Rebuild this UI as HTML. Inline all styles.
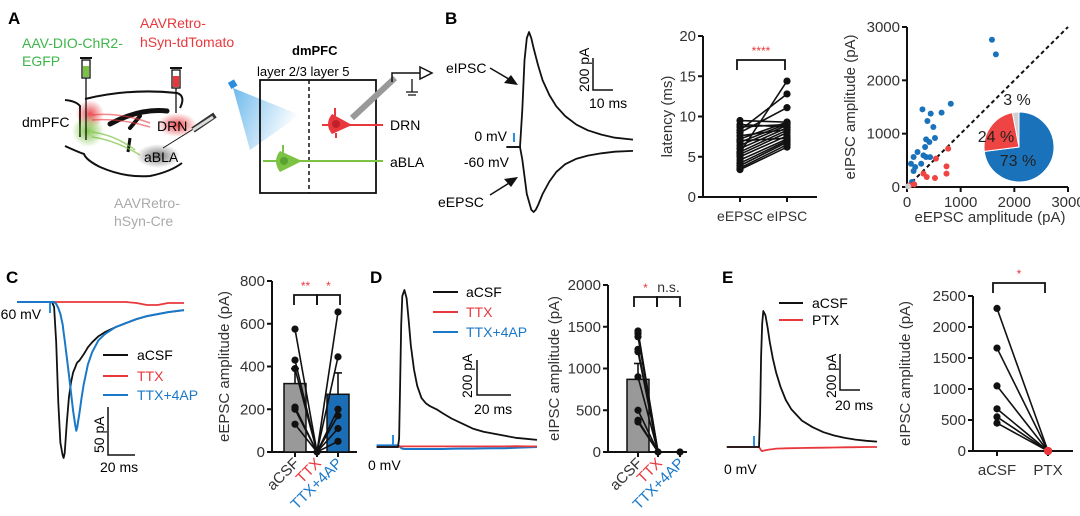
<!DOCTYPE html>
<html><head><meta charset="utf-8"><style>
html,body{margin:0;padding:0;background:#fff;}
svg{display:block;font-family:"Liberation Sans",sans-serif;}
text{font-family:"Liberation Sans",sans-serif;}
</style></head><body>
<svg id="fig" width="1080" height="516" viewBox="0 0 1080 516" xmlns="http://www.w3.org/2000/svg">
<defs>
<radialGradient id="gR"><stop offset="0" stop-color="#e8383d" stop-opacity="0.9"/><stop offset="1" stop-color="#e8383d" stop-opacity="0"/></radialGradient>
<radialGradient id="gG"><stop offset="0" stop-color="#7cc243" stop-opacity="0.95"/><stop offset="1" stop-color="#7cc243" stop-opacity="0"/></radialGradient>
<radialGradient id="gK"><stop offset="0" stop-color="#555" stop-opacity="0.8"/><stop offset="1" stop-color="#555" stop-opacity="0"/></radialGradient>
<linearGradient id="light" x1="0" y1="0" x2="1" y2="0.4"><stop offset="0" stop-color="#4aa8e8" stop-opacity="0.8"/><stop offset="1" stop-color="#4aa8e8" stop-opacity="0"/></linearGradient>
</defs>

<!-- Panel A -->
<g>
<text x="8" y="24" font-size="17" font-weight="bold">A</text>
<text x="22" y="48" font-size="14" fill="#3db54a">AAV-DIO-ChR2-</text>
<text x="22" y="66" font-size="14" fill="#3db54a">EGFP</text>
<text x="140" y="28" font-size="14" fill="#e8383d">AAVRetro-</text>
<text x="140" y="47" font-size="14" fill="#e8383d">hSyn-tdTomato</text>
<text x="114" y="208" font-size="14" fill="#aaa">AAVRetro-</text>
<text x="114" y="226" font-size="14" fill="#aaa">hSyn-Cre</text>
<g fill="none" stroke="#111" stroke-width="2">
<path d="M65,100 Q76,101 80,106 L80,137"/>
<path d="M85,99 Q130,88 177,93 Q186,96 180,108"/>
<path d="M65,146 Q78,152 84,154 Q86,160 100,167 Q125,178 150,176 Q170,172 182,163"/>
<path d="M110,124 Q140,108 167,111" stroke-width="5" stroke-linecap="round"/>
<path d="M130,128 L140,116" stroke-width="4" stroke-linecap="round"/>
<path d="M128,152 L130,138" stroke-width="3"/>
</g>
<circle cx="90" cy="114" r="14" fill="url(#gR)"/>
<circle cx="88" cy="131" r="16" fill="url(#gG)"/>
<ellipse cx="177" cy="125" rx="20" ry="12" fill="url(#gR)"/>
<ellipse cx="158" cy="156" rx="22" ry="12" fill="url(#gK)"/>
<path d="M92,115 Q120,112 150,123" stroke="#e8383d" stroke-width="1.5" fill="none" opacity="0.6"/>
<path d="M92,120 Q120,118 150,127" stroke="#e8383d" stroke-width="1.5" fill="none" opacity="0.6"/>
<path d="M92,132 Q115,135 135,150" stroke="#7cc243" stroke-width="1.5" fill="none" opacity="0.7"/>
<path d="M92,137 Q115,140 140,155" stroke="#7cc243" stroke-width="1.5" fill="none" opacity="0.7"/>
<g>
<line x1="86" y1="76" x2="86" y2="140" stroke="#111" stroke-width="1.3"/>
<rect x="82" y="60" width="8" height="18" fill="#fff" stroke="#111" stroke-width="1.3"/><rect x="83" y="66" width="6" height="11" fill="#7cc243"/>
<line x1="80" y1="58" x2="92" y2="58" stroke="#111" stroke-width="2"/>
</g>
<g>
<line x1="176" y1="86" x2="176" y2="113" stroke="#111" stroke-width="1.3"/>
<rect x="172" y="70" width="8" height="18" fill="#fff" stroke="#111" stroke-width="1.3"/><rect x="173" y="76" width="6" height="11" fill="#e8383d"/>
<line x1="170" y1="68" x2="182" y2="68" stroke="#111" stroke-width="2"/>
</g>
<g>
<line x1="163" y1="148" x2="195" y2="128" stroke="#111" stroke-width="1"/>
<line x1="193" y1="130" x2="215" y2="115" stroke="#333" stroke-width="6"/>
<line x1="193" y1="130" x2="213" y2="117" stroke="#ddd" stroke-width="3"/>
</g>
<text x="22" y="127" font-size="14">dmPFC</text>
<text x="157" y="131" font-size="14">DRN</text>
<text x="144" y="162" font-size="14">aBLA</text>
<path d="M233,88 L300,115 L250,150 Z" fill="url(#light)"/>
<rect x="229" y="81" width="7" height="7" fill="#2a8de0" transform="rotate(-30 232 84)"/>
<text x="292" y="55" font-size="13" font-weight="bold">dmPFC</text>
<text x="257" y="76" font-size="13">layer 2/3 layer 5</text>
<rect x="260" y="80" width="116" height="113" fill="none" stroke="#111" stroke-width="1.8"/>
<line x1="309" y1="80" x2="309" y2="193" stroke="#111" stroke-width="1.5" stroke-dasharray="4,3"/>
<path d="M352,118 L395,78" stroke="#999" stroke-width="6"/>
<path d="M392,82 L392,73 L420,73" stroke="#111" stroke-width="1.5" fill="none"/>
<path d="M420,67 L432,73 L420,79 Z" fill="#fff" stroke="#111" stroke-width="1.5"/>
<path d="M412,79 L412,92 M406,92 L418,92 M408,95 L416,95" stroke="#111" stroke-width="1.3"/>
<g>
<line x1="322" y1="125" x2="383" y2="125" stroke="#e8383d" stroke-width="2"/>
<path d="M332,114 L352,125 L332,134 Q324,124 332,114Z" fill="#e8383d"/>
<line x1="335" y1="108" x2="335" y2="116" stroke="#e8383d" stroke-width="2"/>
<line x1="336" y1="133" x2="336" y2="138" stroke="#e8383d" stroke-width="2"/>
<circle cx="336" cy="124" r="4" fill="#c0202a"/>
</g>
<text x="390" y="130" font-size="14">DRN</text>
<g>
<line x1="263" y1="161" x2="383" y2="161" stroke="#7cc243" stroke-width="2"/>
<path d="M280,151 L302,161 L280,172 Q272,161 280,151Z" fill="#7cc243"/>
<line x1="283" y1="145" x2="283" y2="153" stroke="#7cc243" stroke-width="2"/>
<circle cx="284" cy="161" r="4" fill="#5aa332"/>
</g>
<text x="390" y="167" font-size="14">aBLA</text>
</g>

<!-- Panel B -->
<text x="445" y="24" font-size="17" font-weight="bold">B</text>
<g id="bTraces"></g>
<text x="446" y="73" font-size="14">eIPSC</text>
<text x="438" y="207" font-size="14">eEPSC</text>
<text x="507" y="141" font-size="14" text-anchor="end">0 mV</text>
<text x="509" y="167" font-size="14" text-anchor="end">-60 mV</text>
<path d="M490,68 L514,82" stroke="#111" stroke-width="1.5"/><path d="M518,85 L504,83 L511,75Z" fill="#111"/>
<path d="M490,195 L514,180" stroke="#111" stroke-width="1.5"/><path d="M518,177 L504,179 L511,187Z" fill="#111"/>
<line x1="514" y1="133" x2="514" y2="142" stroke="#2a8de0" stroke-width="2"/>
<path d="M593,58 L593,90 L613,90" fill="none" stroke="#111" stroke-width="1.5"/>
<text x="0" y="0" font-size="14" transform="translate(589,92) rotate(-90)">200 pA</text>
<text x="589" y="108" font-size="14">10 ms</text>
<g id="latency"></g>
<g id="scatter"></g>

<!-- Panel C -->
<text x="6" y="283" font-size="17" font-weight="bold">C</text>
<g id="cTraces"></g>
<text x="-4" y="319" font-size="14">-60 mV</text>
<line x1="50" y1="303" x2="50" y2="313" stroke="#2a8de0" stroke-width="2"/>
<g>
<line x1="103" y1="355" x2="128" y2="355" stroke="#111" stroke-width="2"/><text x="137" y="360" font-size="14">aCSF</text>
<line x1="103" y1="376" x2="128" y2="376" stroke="#e8383d" stroke-width="2"/><text x="137" y="381" font-size="14" fill="#e8383d">TTX</text>
<line x1="103" y1="395" x2="128" y2="395" stroke="#1a78c8" stroke-width="2"/><text x="137" y="400" font-size="14" fill="#1a78c8">TTX+4AP</text>
</g>
<path d="M108,407 L108,455 L135,455" fill="none" stroke="#111" stroke-width="1.5"/>
<text x="0" y="0" font-size="14" transform="translate(104,453) rotate(-90)">50 pA</text>
<text x="100" y="472" font-size="14">20 ms</text>
<g id="barC"></g>

<!-- Panel D -->
<text x="370" y="283" font-size="17" font-weight="bold">D</text>
<g id="dTraces"></g>
<line x1="393" y1="435" x2="393" y2="445" stroke="#2a8de0" stroke-width="2"/>
<text x="368" y="470" font-size="14">0 mV</text>
<g>
<line x1="433" y1="292" x2="458" y2="292" stroke="#111" stroke-width="2"/><text x="466" y="297" font-size="14">aCSF</text>
<line x1="433" y1="312" x2="458" y2="312" stroke="#e8383d" stroke-width="2"/><text x="466" y="317" font-size="14" fill="#e8383d">TTX</text>
<line x1="433" y1="332" x2="458" y2="332" stroke="#1a78c8" stroke-width="2"/><text x="466" y="337" font-size="14" fill="#1a78c8">TTX+4AP</text>
</g>
<path d="M477,360 L477,395 L511,395" fill="none" stroke="#111" stroke-width="1.5"/>
<text x="0" y="0" font-size="14" transform="translate(472,398) rotate(-90)">200 pA</text>
<text x="474" y="414" font-size="14">20 ms</text>
<g id="barD"></g>

<!-- Panel E -->
<text x="722" y="283" font-size="17" font-weight="bold">E</text>
<g id="eTraces"></g>
<line x1="754" y1="436" x2="754" y2="446" stroke="#2a8de0" stroke-width="2"/>
<text x="724" y="474" font-size="14">0 mV</text>
<g>
<line x1="779" y1="303" x2="803" y2="303" stroke="#111" stroke-width="2"/><text x="812" y="308" font-size="14">aCSF</text>
<line x1="779" y1="320" x2="803" y2="320" stroke="#e8383d" stroke-width="2"/><text x="812" y="325" font-size="14">PTX</text>
</g>
<path d="M840,354 L840,390 L860,390" fill="none" stroke="#111" stroke-width="1.5"/>
<text x="0" y="0" font-size="14" transform="translate(836,398) rotate(-90)">200 pA</text>
<text x="835" y="410" font-size="14">20 ms</text>
<g id="pairE"></g>
</svg>

<script>
// ---------- data ----------
const bIpscT=[-6,0,1,2,3,4,5,6,8,10,13,16,20,25,30,36,42,50];
const bIpscI=[0,0,300,700,880,930,880,800,660,540,420,330,250,180,135,100,75,60];
const bEpscT=[-6,0,1,3,5,6,7,8,10,13,16,20,25,30,36,42,50];
const bEpscI=[0,0,-80,-300,-400,-415,-400,-370,-300,-220,-160,-110,-75,-55,-40,-30,-25];
const latCats=['eEPSC','eIPSC'];
const latEpsc=[3.4,3.6,3.9,4.2,4.6,5.0,5.3,5.6,6.0,6.4,6.8,7.2,7.6,8.0,8.3,8.7,9.0,9.5,5.5,7.0];
const latIpsc=[6.2,6.5,6.8,7.0,7.2,7.6,8.0,8.3,8.6,8.9,9.1,9.3,8.4,11.1,12.8,9.0,8.7,9.3,14.4,7.3];
const latTicks=[0,5,10,15,20];
const blueX=[1583,1656,816,644,288,442,380,491,521,356,417,337,307,356,196,123,74,153,123,264,430,92];
const blueY=[2762,2487,1562,1394,1456,1375,1237,1125,919,894,844,750,594,562,656,562,437,375,300,437,560,94];
const redX=[767,540,736,736,521,368,307,135,49];
const redY=[719,531,387,250,169,187,250,50,31];
const grayX=[20]; const grayY=[12];
const scTicks=[0,1000,2000,3000];
const pieVals=[73,24,3]; const pieLabels=['73 %','24 %','3 %'];
const cT=[-33,0,2,4,6,8,10,11,12,14,16,18,20,22,23,24,26,28,30,34,38,44,50,60,70,80,90,100,110,125];
const cAcsf=[0,0,-5,-40,-100,-140,-152,-155,-150,-120,-95,-80,-70,-65,-62,-60,-58,-55,-52,-45,-40,-34,-30,-25,-21,-17,-14,-12,-10,-8];
const cTtx4=[0,0,0,-2,-6,-12,-22,-30,-38,-55,-72,-90,-108,-122,-128,-124,-110,-95,-82,-62,-50,-38,-32,-25,-21,-17,-14,-12,-10,-8];
const cTtx=[0,0,0,0,0,0,0,0,0,0,0,0,0,0,0,0,0,0,0,0,0,0,0,0,0,-1,-3,-3,-1,-1];
const barCats=['aCSF','TTX','TTX+4AP'];
const cMeans=[320,0,270]; const cErr=[390,0,370];
const cPtsA=[575,430,390,210,200,130]; const cPtsB=[655,445,200,170,110,50];
const cTicks=[0,200,400,600,800];
const dT=[-20,0,1,2,3,4,6,8,10,12,15,18,22,26,30,36,42,50,60,70,80,90,100,110,120,130];
const dAcsf=[0,0,40,300,600,740,770,730,620,500,380,300,240,215,200,185,165,140,115,90,75,65,55,45,40,35];
const dTtx=[0,0,2,3,3,3,3,3,3,3,3,3,3,3,3,3,3,3,3,3,3,3,3,4,3,3];
const dTtx4=[8,8,5,0,-5,-8,-10,-10,-10,-10,-10,-10,-10,-10,-10,-10,-10,-9,-8,-8,-7,-6,-6,-4,-2,0];
const dMeans=[870,0,0]; const dErr=[1060,0,0];
const dPts=[1450,1420,1380,1230,1200,900,500,380,360];
const dTicks=[0,500,1000,1500,2000];
const eT=[-30,0,1,2,3,4,6,8,10,13,16,20,25,30,40,50,60,70,80,90,100,110];
const eAcsf=[0,0,400,1100,1500,1650,1600,1450,1280,1070,900,730,570,460,320,240,180,140,110,90,75,65];
const ePtx=[0,0,-20,-40,-50,-45,-40,-35,-30,-25,-20,-18,-16,-15,-12,-10,-8,-6,-4,-2,0,0];
const eCats=['aCSF','PTX'];
const eAcsfPts=[2300,1660,1050,680,550,450];
const ePtxPts=[0,0,0,0,0,0];
const eTicks=[0,500,1000,1500,2000,2500];

// ---------- helpers ----------
const NS='http://www.w3.org/2000/svg';
function el(parent,tag,attrs,name){
  const e=document.createElementNS(NS,tag);
  for(const k in attrs) e.setAttribute(k,attrs[k]);
  
  
  parent.appendChild(e); return e;
}
function txt(parent,x,y,s,name,opts={}){
  const t=el(parent,'text',Object.assign({x:x,y:y,'font-size':15},opts),name);
  t.textContent=s; return t;
}
function lin(d0,d1,r0,r1){return v=>r0+(v-d0)/(d1-d0)*(r1-r0);}
function trace(parent,T,I,sx,sy,color,name,w=1.8){
  const d=T.map((t,i)=>(i?'L':'M')+sx(t).toFixed(1)+','+sy(I[i]).toFixed(1)).join(' ');
  el(parent,'path',{d:d,fill:'none',stroke:color,'stroke-width':w,'stroke-linejoin':'round'},name);
}
function yAxis(g,x,sy,ticks,title,titleX){
  el(g,'line',{x1:x,y1:sy(ticks[0])+1,x2:x,y2:sy(ticks[ticks.length-1]),stroke:'#111','stroke-width':2},'y-axis');
  ticks.forEach(v=>{
    el(g,'line',{x1:x-5,y1:sy(v),x2:x,y2:sy(v),stroke:'#111','stroke-width':2},'y-tick');
    txt(g,x-7,sy(v)+5,String(v),'y-tick-label',{'text-anchor':'end',fill:'#333'});
  });
  const cy=(sy(ticks[0])+sy(ticks[ticks.length-1]))/2;
  txt(g,0,0,title,'y-axis-title',{'text-anchor':'middle',fill:'#333',transform:`translate(${titleX},${cy}) rotate(-90)`});
}
function bracket(g,x1,x2,y,label,color){
  el(g,'path',{d:`M${x1},${y+10} L${x1},${y} L${x2},${y} L${x2},${y+10}`,fill:'none',stroke:'#111','stroke-width':1.8},'significance-bracket');
  txt(g,(x1+x2)/2,y-5,label,'significance-label',{'text-anchor':'middle',fill:color,'font-size':label.indexOf('*')>=0?12:14});
}

// ---------- Panel B traces ----------
(function(){
  const g=document.getElementById('bTraces');
  const sx=lin(0,50,520,633);
  trace(g,bIpscT,bIpscI,sx,lin(0,930,147,32),'#111','eipsc-trace');
  trace(g,bEpscT,bEpscI,sx,lin(0,-415,147,212),'#111','eepsc-trace');
})();

// ---------- latency ----------
(function(){
  const g=document.getElementById('latency');
  const sy=lin(0,20,197,36); const xs=[740,787];
  yAxis(g,703,sy,latTicks,'latency (ms)',672);
  el(g,'line',{x1:702,y1:197,x2:817,y2:197,stroke:'#111','stroke-width':2},'x-axis');
  latCats.forEach((c,i)=>{
    el(g,'line',{x1:xs[i],y1:197,x2:xs[i],y2:202,stroke:'#111','stroke-width':2},'x-tick');
    txt(g,xs[i],221,c,'x-tick-label',{'text-anchor':'middle',fill:'#333','font-size':14});
  });
  latEpsc.forEach((v,i)=>{
    el(g,'line',{x1:xs[0],y1:sy(v),x2:xs[1],y2:sy(latIpsc[i]),stroke:'#111','stroke-width':1.6},'latency-pair-line');
    el(g,'circle',{cx:xs[0],cy:sy(v),r:3.6,fill:'#111'},'eepsc-latency-point');
    el(g,'circle',{cx:xs[1],cy:sy(latIpsc[i]),r:3.6,fill:'#111'},'eipsc-latency-point');
  });
  bracket(g,737,785,60,'****','#e8383d');
})();

// ---------- scatter + pie ----------
(function(){
  const g=document.getElementById('scatter');
  const sx=lin(0,3000,907,1068), sy=lin(0,3000,187,27);
  yAxis(g,907,sy,scTicks,'eIPSC amplitude (pA)',855);
  el(g,'line',{x1:906,y1:187,x2:1068,y2:187,stroke:'#111','stroke-width':2},'x-axis');
  scTicks.forEach(v=>{
    el(g,'line',{x1:sx(v),y1:187,x2:sx(v),y2:192,stroke:'#111','stroke-width':2},'x-tick');
    txt(g,sx(v),207,String(v),'x-tick-label',{'text-anchor':'middle',fill:'#333'});
  });
  txt(g,990,222,'eEPSC amplitude (pA)','x-axis-title',{'text-anchor':'middle',fill:'#333'});
  el(g,'line',{x1:sx(0),y1:sy(0),x2:sx(3000),y2:sy(3000),stroke:'#111','stroke-width':2,'stroke-dasharray':'4,3'},'unity-line');
  blueX.forEach((v,i)=>el(g,'circle',{cx:sx(v),cy:sy(blueY[i]),r:3,fill:'#1a72bb'},'ipsc-dominant-point'));
  redX.forEach((v,i)=>el(g,'circle',{cx:sx(v),cy:sy(redY[i]),r:3,fill:'#ef4444'},'epsc-dominant-point'));
  grayX.forEach((v,i)=>el(g,'circle',{cx:sx(v),cy:sy(grayY[i]),r:3,fill:'#ccc'},'equal-point'));
  const cx=1019,cy=147,r=35, cols=['#1a72bb','#ef4444','#d0d0d0'], names=['pie-slice-ipsc','pie-slice-epsc','pie-slice-equal'];
  const tot=pieVals.reduce((a,b)=>a+b,0); let a0=0;
  pieVals.forEach((v,i)=>{
    const a1=a0+v/tot*2*Math.PI;
    const p=(a)=>[cx+r*Math.sin(a),cy-r*Math.cos(a)];
    const [x0,y0]=p(a0),[x1,y1]=p(a1);
    el(g,'path',{d:`M${cx},${cy} L${x0},${y0} A${r},${r} 0 ${a1-a0>Math.PI?1:0} 1 ${x1},${y1} Z`,fill:cols[i],stroke:'#fff','stroke-width':1},names[i]);
    a0=a1;
  });
  txt(g,1018,166,pieLabels[0],'pie-label-ipsc',{'text-anchor':'middle','font-size':16,fill:'#222'});
  txt(g,996,142,pieLabels[1],'pie-label-epsc',{'text-anchor':'middle','font-size':16,fill:'#222'});
  txt(g,1017,105,pieLabels[2],'pie-label-equal',{'text-anchor':'middle','font-size':16,fill:'#222'});
})();

// ---------- Panel C traces ----------
(function(){
  const g=document.getElementById('cTraces');
  const sx=lin(0,125,52,184), sy=lin(0,-155,302,458);
  trace(g,cT,cTtx,sx,sy,'#e8383d','c-ttx-trace');
  trace(g,cT,cAcsf,sx,sy,'#111','c-acsf-trace');
  trace(g,cT,cTtx4,sx,sy,'#1a78c8','c-ttx4ap-trace',2);
})();

// ---------- bar charts ----------
function barChart(id,sy,ticks,means,errs,xs,ttl,axisX,axisEnd,titleX,lines){
  const g=document.getElementById(id);
  yAxis(g,axisX,sy,ticks,ttl,titleX);
  el(g,'line',{x1:axisX-1,y1:sy(0),x2:axisEnd,y2:sy(0),stroke:'#111','stroke-width':2},'x-axis');
  const cols=['#999','#999','#1b6eb5'], lc=['#333','#e8383d','#1a78c8'];
  means.forEach((m,i)=>{
    if(m>0){
      el(g,'line',{x1:xs[i],y1:sy(m),x2:xs[i],y2:sy(errs[i]),stroke:'#111','stroke-width':1.6},'error-bar');
      el(g,'line',{x1:xs[i]-4,y1:sy(errs[i]),x2:xs[i]+4,y2:sy(errs[i]),stroke:'#111','stroke-width':1.6},'error-cap');
      el(g,'rect',{x:xs[i]-11,y:sy(m),width:22,height:sy(0)-sy(m),fill:cols[i],stroke:'#111','stroke-width':1.5},'bar-'+barCats[i].toLowerCase().replace('+','-'));
    }
    el(g,'line',{x1:xs[i],y1:sy(0),x2:xs[i],y2:sy(0)+5,stroke:'#111','stroke-width':2},'x-tick');
    txt(g,0,0,barCats[i],'x-tick-label',{'text-anchor':'end',fill:lc[i],transform:`translate(${xs[i]+5},${sy(0)+12}) rotate(-45)`});
  });
  lines(g);
}
(function(){
  const sy=lin(0,800,452,281), xs=[295,317,338];
  barChart('barC',sy,cTicks,cMeans,cErr,xs,'eEPSC amplitude (pA)',272,357,229,g=>{
    cPtsA.forEach(v=>{el(g,'line',{x1:xs[0],y1:sy(v),x2:xs[1],y2:sy(0),stroke:'#111','stroke-width':1.6},'pair-line');
      el(g,'circle',{cx:xs[0],cy:sy(v),r:3.6,fill:'#111'},'acsf-point');});
    cPtsB.forEach(v=>{el(g,'line',{x1:xs[1],y1:sy(0),x2:xs[2],y2:sy(v),stroke:'#111','stroke-width':1.6},'pair-line');
      el(g,'circle',{cx:xs[2],cy:sy(v),r:3.6,fill:'#111'},'ttx4ap-point');});
    el(g,'circle',{cx:xs[1],cy:sy(0),r:3.6,fill:'#111'},'ttx-point');
    bracket(g,294,317,295,'**','#e8383d'); bracket(g,317,340,295,'*','#e8383d');
  });
})();

// ---------- Panel D traces ----------
(function(){
  const g=document.getElementById('dTraces');
  const sx=lin(0,130,398,537), sy=lin(0,770,447,290);
  trace(g,dT,dTtx4,sx,sy,'#1a78c8','d-ttx4ap-trace',2);
  trace(g,dT,dTtx,sx,sy,'#e8383d','d-ttx-trace');
  trace(g,dT,dAcsf,sx,sy,'#111','d-acsf-trace');
})();
(function(){
  const sy=lin(0,2000,452,285), xs=[638,658,680];
  barChart('barD',sy,dTicks,dMeans,dErr,xs,'eIPSC amplitude (pA)',608,687,559,g=>{
    dPts.forEach(v=>{el(g,'line',{x1:xs[0],y1:sy(v),x2:xs[1],y2:sy(0),stroke:'#111','stroke-width':1.6},'pair-line');
      el(g,'circle',{cx:xs[0],cy:sy(v),r:3.6,fill:'#111'},'acsf-point');});
    el(g,'circle',{cx:xs[1],cy:sy(0),r:3.6,fill:'#111'},'ttx-point');
    el(g,'circle',{cx:xs[2],cy:sy(0),r:3.6,fill:'#111'},'ttx4ap-point');
    bracket(g,634,657,297,'*','#e8383d'); bracket(g,657,680,297,'n.s.','#333');
  });
})();

// ---------- Panel E ----------
(function(){
  const g=document.getElementById('eTraces');
  const sx=lin(0,110,759,877), sy=lin(0,1650,447,311);
  trace(g,eT,ePtx,sx,sy,'#e8383d','e-ptx-trace');
  trace(g,eT,eAcsf,sx,sy,'#111','e-acsf-trace');
})();
(function(){
  const g=document.getElementById('pairE');
  const sy=lin(0,2500,451,296), xs=[997,1048];
  yAxis(g,973,sy,eTicks,'eIPSC amplitude (pA)',910);
  el(g,'line',{x1:972,y1:451,x2:1073,y2:451,stroke:'#111','stroke-width':2},'x-axis');
  eCats.forEach((c,i)=>{
    el(g,'line',{x1:xs[i],y1:451,x2:xs[i],y2:456,stroke:'#111','stroke-width':2},'x-tick');
    txt(g,xs[i],475,c,'x-tick-label',{'text-anchor':'middle',fill:'#333'});
  });
  eAcsfPts.forEach((v,i)=>{
    el(g,'line',{x1:xs[0],y1:sy(v),x2:xs[1],y2:sy(ePtxPts[i]),stroke:'#111','stroke-width':1.6},'pair-line');
    el(g,'circle',{cx:xs[0],cy:sy(v),r:3.6,fill:'#111'},'acsf-point');
  });
  ePtxPts.forEach(v=>el(g,'circle',{cx:xs[1],cy:sy(v),r:4,fill:'#e8383d'},'ptx-point'));
  bracket(g,993,1045,283,'*','#e8383d');
})();
</script>
</body></html>
